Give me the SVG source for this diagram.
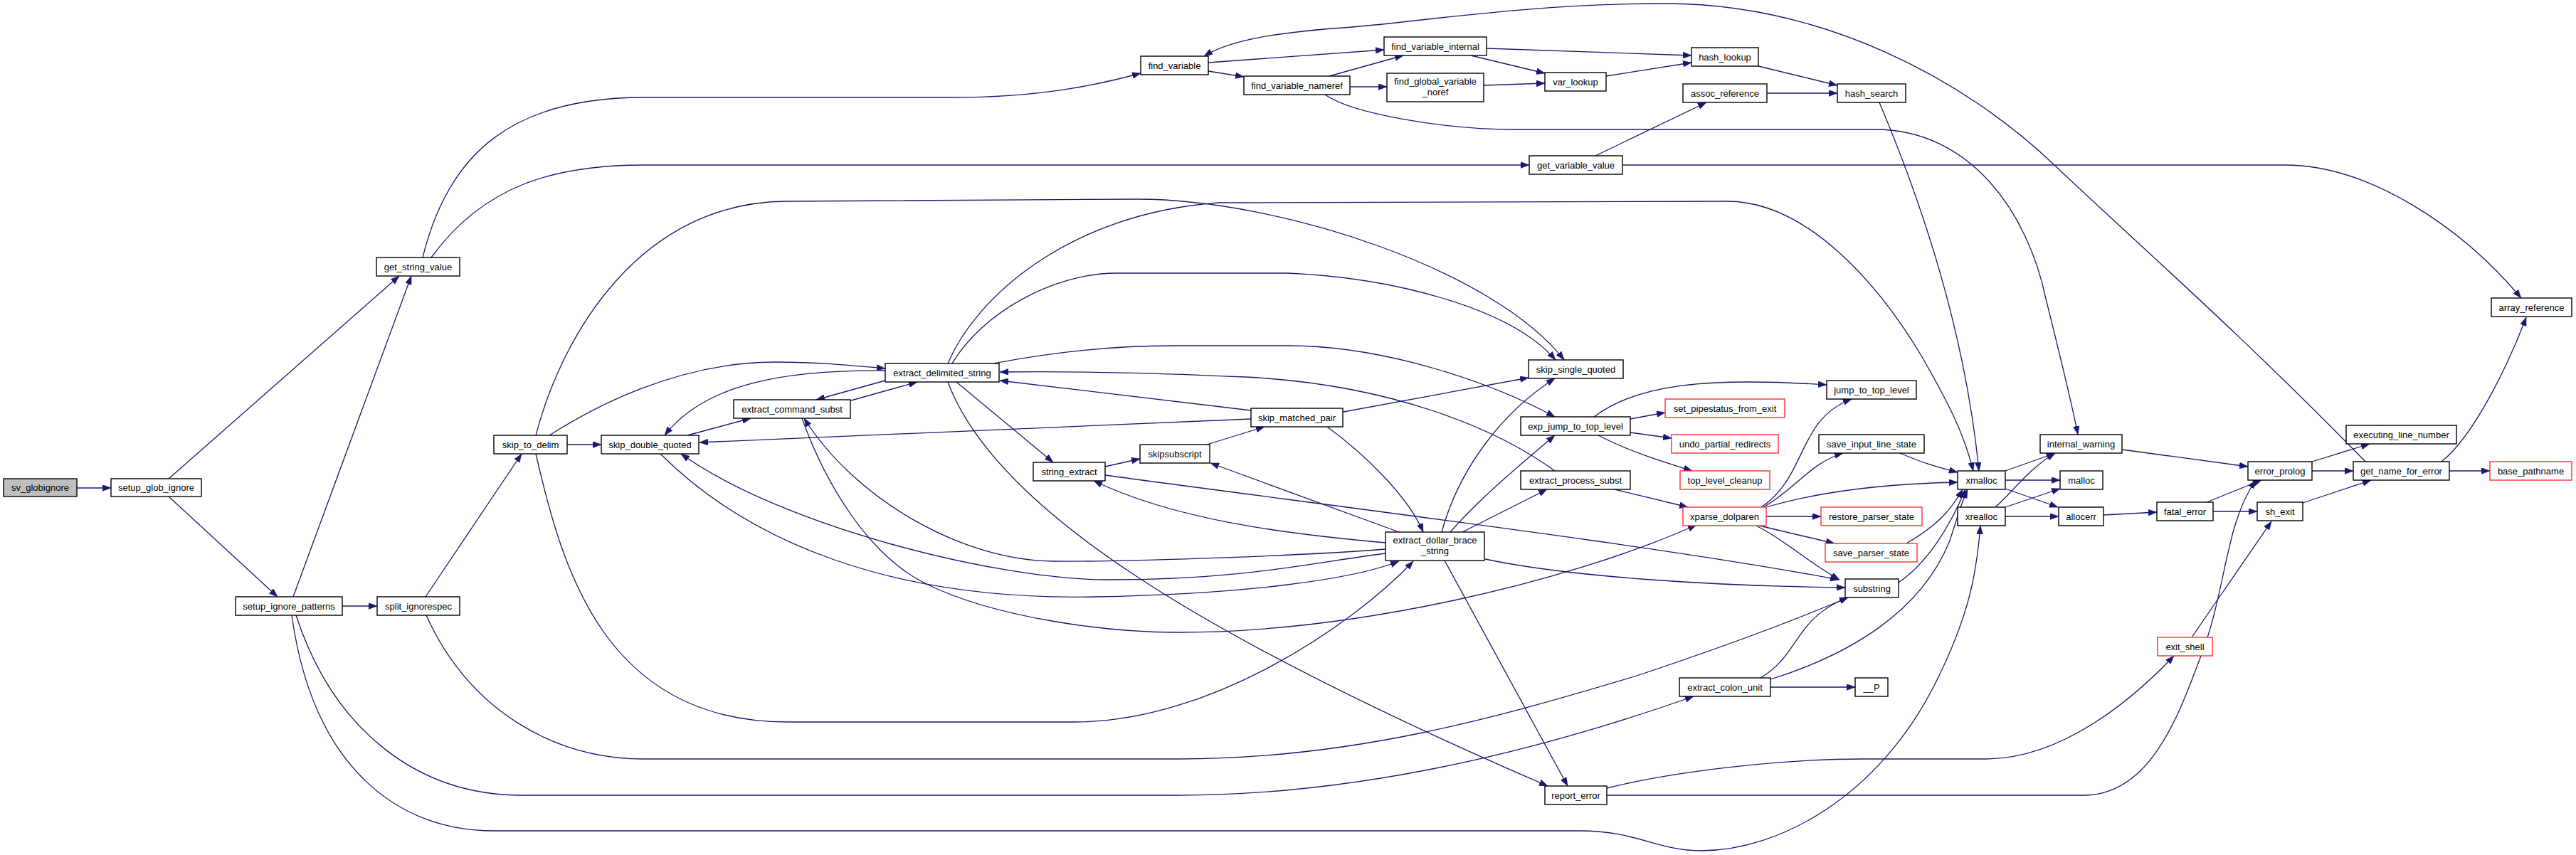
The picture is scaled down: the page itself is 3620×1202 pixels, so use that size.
<svg xmlns="http://www.w3.org/2000/svg" width="3620" height="1202" viewBox="0 0 3620 1202">
<style>
.n rect{fill:#fff;stroke:#000;stroke-width:1.4}
.n.r rect{stroke:#ff3030}
.n.g rect{fill:#bfbfbf}
text{font-family:"Liberation Sans",Arial,sans-serif;font-size:13px;text-anchor:middle;fill:#000}
#edges path{fill:none;stroke:#191970;stroke-width:1.3;marker-end:url(#a)}
</style>
<defs>
<marker id="a" markerWidth="12" markerHeight="9" refX="12" refY="4.5" orient="auto" markerUnits="userSpaceOnUse"><path d="M0,0 L12,4.5 L0,9 z" fill="#191970" stroke="#191970" stroke-width="0.5"/></marker>
</defs>
<rect width="3620" height="1202" fill="#fff"/>
<g id="edges">
<path d="M108,686 L156,686"/>
<path d="M237,673 L561,388"/>
<path d="M237,698 L390,839"/>
<path d="M412,839 L578,388"/>
<path d="M481,852 L530,852"/>
<path d="M594,362 C630,215 720,137 905,137 L1338,137 C1460,137 1540,120 1603,103"/>
<path d="M606,362 C680,260 780,232 905,232 L2149,232"/>
<path d="M2242,219 L2398,144"/>
<path d="M2280,232 L3211,232 C3330,232 3460,320 3543,419"/>
<path d="M1698,88 L1945,70"/>
<path d="M1698,100 L1748,108"/>
<path d="M3324,649 C3150,470 2990,330 2888,233 C2760,110 2560,5 2340,5 C2150,5 2000,30 1900,38 C1800,45 1730,55 1692,79"/>
<path d="M1868,107 L1972,78"/>
<path d="M1897,122 L1949,122"/>
<path d="M1862,133 C1900,160 2030,182 2127,182 L2635,182 C2770,182 2850,300 2875,420 C2895,500 2912,570 2920,611"/>
<path d="M2089,68 L2377,78"/>
<path d="M2067,78 L2171,103"/>
<path d="M2085,120 L2171,117"/>
<path d="M2257,107 L2377,88"/>
<path d="M2471,93 L2582,120"/>
<path d="M2483,131 L2582,131"/>
<path d="M2641,144 C2690,260 2760,450 2781,662"/>
<path d="M3431,649 C3480,610 3530,500 3550,446"/>
<path d="M3442,662 L3499,662"/>
<path d="M3249,662 L3307,662"/>
<path d="M3249,649 L3330,624"/>
<path d="M2982,632 L3159,656"/>
<path d="M3101,706 L3178,675"/>
<path d="M3110,719 L3172,719"/>
<path d="M3236,707 L3332,675"/>
<path d="M2956,724 L3031,720"/>
<path d="M2818,662 L2888,637"/>
<path d="M2818,675 L2895,675"/>
<path d="M2818,687 L2892,713"/>
<path d="M2804,713 C2830,690 2850,660 2888,637"/>
<path d="M2818,713 L2895,687"/>
<path d="M2818,726 L2893,726"/>
<path d="M3080,896 L3192,733"/>
<path d="M2258,1108 C2350,1085 2500,1067 2618,1067 L2790,1067 C2900,1067 3000,980 3055,922"/>
<path d="M2258,1118 L2928,1118 C3020,1118 3060,1010 3090,930 C3130,830 3125,740 3170,675"/>
<path d="M416,865 C470,1030 590,1118 733,1118 L1655,1118 C1900,1118 2150,1060 2380,979"/>
<path d="M410,865 C440,1080 560,1168 693,1168 L2220,1168 C2300,1168 2330,1196 2390,1196 C2500,1196 2640,1120 2720,960 C2770,860 2778,800 2783,739"/>
<path d="M599,865 C660,1000 780,1067 905,1067 L1655,1067 C1900,1067 2100,1010 2300,950 C2450,900 2550,860 2597,840"/>
<path d="M598,839 L733,638"/>
<path d="M797,625 L845,625"/>
<path d="M772,612 C830,575 950,509 1090,509 C1150,509 1200,514 1244,518"/>
<path d="M753,612 C790,470 900,283 1107,283 L1598,280 C1800,280 2100,380 2198,506"/>
<path d="M1338,511 C1380,440 1480,384 1569,384 L1810,384 C1950,390 2120,430 2186,506"/>
<path d="M1332,511 C1370,420 1500,300 1713,285 L2427,283 C2540,283 2640,400 2700,500 C2740,570 2760,610 2773,662"/>
<path d="M1396,511 C1480,495 1560,486 1650,486 L1810,486 C1950,486 2100,540 2185,586"/>
<path d="M2185,662 C2100,600 1950,540 1750,530 C1600,523 1480,522 1405,523"/>
<path d="M1758,577 L1405,535"/>
<path d="M1758,589 L983,622"/>
<path d="M1888,579 L2148,531"/>
<path d="M1865,600 C1920,640 1980,700 2000,748"/>
<path d="M1696,625 L1777,600"/>
<path d="M1553,656 L1602,645"/>
<path d="M1344,537 L1480,650"/>
<path d="M1244,535 L1147,562"/>
<path d="M1196,563 L1289,537"/>
<path d="M966,612 L1055,588"/>
<path d="M1244,521 C1100,520 990,540 934,612"/>
<path d="M1332,537 C1400,720 1700,900 2175,1105"/>
<path d="M2030,788 L2203,1105"/>
<path d="M2087,786 C2200,810 2400,824 2593,826"/>
<path d="M1553,668 C1900,715 2350,770 2584,815"/>
<path d="M1127,588 C1160,680 1220,780 1300,820 C1400,870 1560,889 1655,889 C1900,889 2200,820 2384,738"/>
<path d="M928,638 C1050,760 1250,845 1540,839 C1750,835 1900,815 1966,789"/>
<path d="M1947,778 C1850,790 1750,815 1557,815 C1400,815 1100,740 957,638"/>
<path d="M1947,772 C1850,780 1600,790 1480,789 C1350,788 1200,700 1130,588"/>
<path d="M1947,763 C1800,750 1650,730 1537,676"/>
<path d="M1966,748 L1701,651"/>
<path d="M2026,748 C2050,660 2110,580 2185,532"/>
<path d="M2038,748 C2080,700 2140,650 2185,612"/>
<path d="M2055,748 L2174,688"/>
<path d="M753,638 C790,800 850,1015 1107,1015 L1511,1015 C1700,1015 1900,880 1986,789"/>
<path d="M2240,586 C2300,540 2400,530 2567,541"/>
<path d="M2291,589 L2340,580"/>
<path d="M2291,608 L2349,616"/>
<path d="M2246,612 C2290,635 2340,650 2378,662"/>
<path d="M2269,688 L2372,713"/>
<path d="M2475,713 C2540,670 2525,590 2602,561"/>
<path d="M2478,713 C2520,690 2545,650 2590,637"/>
<path d="M2482,713 C2560,690 2650,680 2751,678"/>
<path d="M2482,726 L2559,726"/>
<path d="M2468,738 L2578,764"/>
<path d="M2468,739 C2510,760 2540,790 2585,815"/>
<path d="M2670,637 C2700,650 2720,656 2751,664"/>
<path d="M2679,764 C2720,740 2740,720 2758,688"/>
<path d="M2668,819 C2710,790 2740,740 2762,688"/>
<path d="M2474,953 C2530,920 2520,870 2597,840"/>
<path d="M2488,955 C2600,920 2700,860 2740,760 C2750,730 2755,710 2765,688"/>
<path d="M2488,966 L2607,966"/>
</g>
<g id="sv_globignore" class="n g"><rect x="5" y="673" width="103" height="25"/><text x="56.5" y="690">sv_globignore</text></g>
<g id="setup_glob_ignore" class="n"><rect x="156" y="673" width="127" height="25"/><text x="219.5" y="690">setup_glob_ignore</text></g>
<g id="get_string_value" class="n"><rect x="529" y="362" width="117" height="26"/><text x="587.5" y="379.5">get_string_value</text></g>
<g id="setup_ignore_patterns" class="n"><rect x="331" y="839" width="150" height="26"/><text x="406" y="856.5">setup_ignore_patterns</text></g>
<g id="split_ignorespec" class="n"><rect x="530" y="839" width="116" height="26"/><text x="588" y="856.5">split_ignorespec</text></g>
<g id="skip_to_delim" class="n"><rect x="694" y="612" width="103" height="26"/><text x="745.5" y="629.5">skip_to_delim</text></g>
<g id="skip_double_quoted" class="n"><rect x="845" y="612" width="137" height="26"/><text x="913.5" y="629.5">skip_double_quoted</text></g>
<g id="extract_command_subst" class="n"><rect x="1031" y="562" width="164" height="26"/><text x="1113" y="579.5">extract_command_subst</text></g>
<g id="extract_delimited_string" class="n"><rect x="1244" y="511" width="160" height="26"/><text x="1324" y="528.5">extract_delimited_string</text></g>
<g id="string_extract" class="n"><rect x="1452" y="650" width="101" height="26"/><text x="1502.5" y="667.5">string_extract</text></g>
<g id="skipsubscript" class="n"><rect x="1602" y="625" width="98" height="26"/><text x="1651" y="642.5">skipsubscript</text></g>
<g id="skip_matched_pair" class="n"><rect x="1758" y="574" width="129" height="26"/><text x="1822.5" y="591.5">skip_matched_pair</text></g>
<g id="find_variable" class="n"><rect x="1603" y="79" width="95" height="26"/><text x="1650.5" y="96.5">find_variable</text></g>
<g id="find_variable_nameref" class="n"><rect x="1748" y="107" width="149" height="26"/><text x="1822.5" y="124.5">find_variable_nameref</text></g>
<g id="find_variable_internal" class="n"><rect x="1945" y="52" width="144" height="26"/><text x="2017" y="69.5">find_variable_internal</text></g>
<g id="find_global_variable_noref" class="n"><rect x="1949" y="103" width="136" height="40"/><text x="2017" y="119">find_global_variable</text><text x="2017" y="134">_noref</text></g>
<g id="var_lookup" class="n"><rect x="2171" y="102" width="86" height="26"/><text x="2214" y="119.5">var_lookup</text></g>
<g id="hash_lookup" class="n"><rect x="2377" y="67" width="94" height="26"/><text x="2424" y="84.5">hash_lookup</text></g>
<g id="assoc_reference" class="n"><rect x="2365" y="118" width="118" height="26"/><text x="2424" y="135.5">assoc_reference</text></g>
<g id="hash_search" class="n"><rect x="2582" y="118" width="96" height="26"/><text x="2630" y="135.5">hash_search</text></g>
<g id="get_variable_value" class="n"><rect x="2149" y="219" width="131" height="26"/><text x="2214.5" y="236.5">get_variable_value</text></g>
<g id="skip_single_quoted" class="n"><rect x="2148" y="506" width="133" height="26"/><text x="2214.5" y="523.5">skip_single_quoted</text></g>
<g id="exp_jump_to_top_level" class="n"><rect x="2137" y="586" width="154" height="26"/><text x="2214" y="603.5">exp_jump_to_top_level</text></g>
<g id="extract_process_subst" class="n"><rect x="2137" y="662" width="154" height="26"/><text x="2214" y="679.5">extract_process_subst</text></g>
<g id="extract_dollar_brace_string" class="n"><rect x="1947" y="748" width="139" height="40"/><text x="2016.5" y="764">extract_dollar_brace</text><text x="2016.5" y="779">_string</text></g>
<g id="set_pipestatus_from_exit" class="n r"><rect x="2340" y="561" width="168" height="26"/><text x="2424" y="578.5">set_pipestatus_from_exit</text></g>
<g id="undo_partial_redirects" class="n r"><rect x="2349" y="611" width="150" height="26"/><text x="2424" y="628.5">undo_partial_redirects</text></g>
<g id="top_level_cleanup" class="n r"><rect x="2361" y="662" width="126" height="26"/><text x="2424" y="679.5">top_level_cleanup</text></g>
<g id="xparse_dolparen" class="n r"><rect x="2365" y="713" width="117" height="26"/><text x="2423.5" y="730.5">xparse_dolparen</text></g>
<g id="jump_to_top_level" class="n"><rect x="2567" y="535" width="126" height="26"/><text x="2630" y="552.5">jump_to_top_level</text></g>
<g id="save_input_line_state" class="n"><rect x="2556" y="611" width="148" height="26"/><text x="2630" y="628.5">save_input_line_state</text></g>
<g id="restore_parser_state" class="n r"><rect x="2559" y="713" width="142" height="26"/><text x="2630" y="730.5">restore_parser_state</text></g>
<g id="save_parser_state" class="n r"><rect x="2565" y="764" width="129" height="26"/><text x="2629.5" y="781.5">save_parser_state</text></g>
<g id="substring" class="n"><rect x="2593" y="814" width="75" height="26"/><text x="2630.5" y="831.5">substring</text></g>
<g id="extract_colon_unit" class="n"><rect x="2360" y="953" width="128" height="26"/><text x="2424" y="970.5">extract_colon_unit</text></g>
<g id="__P" class="n"><rect x="2607" y="953" width="46" height="26"/><text x="2630" y="970.5">__P</text></g>
<g id="report_error" class="n"><rect x="2171" y="1105" width="87" height="26"/><text x="2214.5" y="1122.5">report_error</text></g>
<g id="xmalloc" class="n"><rect x="2751" y="662" width="67" height="26"/><text x="2784.5" y="679.5">xmalloc</text></g>
<g id="malloc" class="n"><rect x="2895" y="662" width="60" height="26"/><text x="2925" y="679.5">malloc</text></g>
<g id="xrealloc" class="n"><rect x="2751" y="713" width="67" height="26"/><text x="2784.5" y="730.5">xrealloc</text></g>
<g id="allocerr" class="n"><rect x="2893" y="713" width="63" height="26"/><text x="2924.5" y="730.5">allocerr</text></g>
<g id="internal_warning" class="n"><rect x="2867" y="611" width="115" height="26"/><text x="2924.5" y="628.5">internal_warning</text></g>
<g id="fatal_error" class="n"><rect x="3031" y="706" width="79" height="26"/><text x="3070.5" y="723.5">fatal_error</text></g>
<g id="error_prolog" class="n"><rect x="3159" y="649" width="90" height="26"/><text x="3204" y="666.5">error_prolog</text></g>
<g id="sh_exit" class="n"><rect x="3172" y="706" width="64" height="26"/><text x="3204" y="723.5">sh_exit</text></g>
<g id="exit_shell" class="n r"><rect x="3032" y="896" width="77" height="26"/><text x="3070.5" y="913.5">exit_shell</text></g>
<g id="executing_line_number" class="n"><rect x="3297" y="598" width="155" height="26"/><text x="3374.5" y="615.5">executing_line_number</text></g>
<g id="get_name_for_error" class="n"><rect x="3307" y="649" width="135" height="26"/><text x="3374.5" y="666.5">get_name_for_error</text></g>
<g id="base_pathname" class="n r"><rect x="3499" y="649" width="115" height="26"/><text x="3556.5" y="666.5">base_pathname</text></g>
<g id="array_reference" class="n"><rect x="3501" y="419" width="113" height="26"/><text x="3557.5" y="436.5">array_reference</text></g>
</svg>
